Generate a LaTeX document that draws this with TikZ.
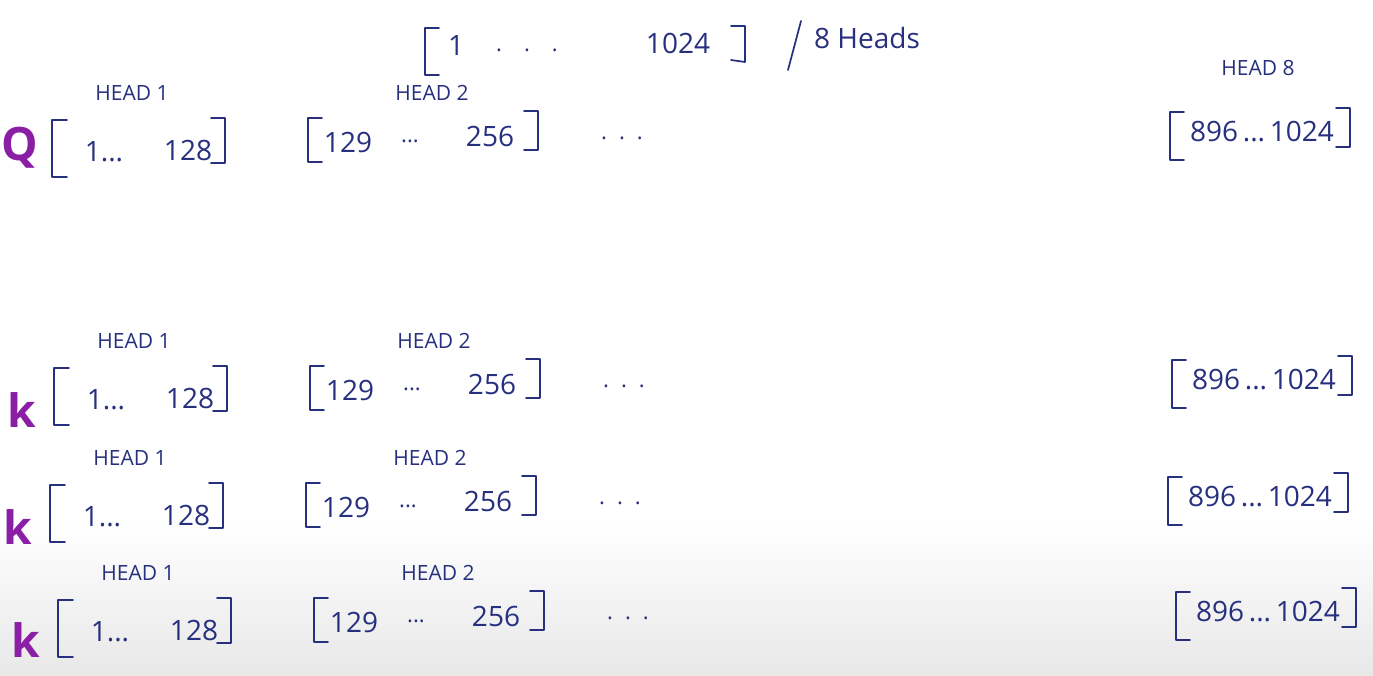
\documentclass[tikz,border=0pt]{standalone}
\usepackage{fontspec}
\setmainfont{Open Sans}
\definecolor{ink}{HTML}{27307E}
\definecolor{vio}{HTML}{8A1FA6}
\begin{document}
\begin{tikzpicture}[x=1pt,y=-1pt,
  hw/.style={font=\fontsize{28}{32}\selectfont, text=ink, inner sep=0pt},
  lbl/.style={font=\fontsize{21}{24}\selectfont, text=ink, inner sep=0pt},
  var/.style={font=\fontsize{46}{50}\selectfont\bfseries, text=vio, inner sep=0pt},
  dots/.style={font=\fontsize{22}{26}\selectfont, text=ink, inner sep=0pt},
  brk/.style={draw=ink, line width=1.7pt, line join=round, line cap=round}]
\useasboundingbox (0,0) rectangle (1373,675);
\shade[top color=white, bottom color=black!9] (0,520) rectangle (1373,675);
% title
\draw[brk] (439,28) -- (425,28) -- (425,75) -- (439,75);
\node[hw] (t1) at (456,46) {1};
\node[dots] (tdots) at (527,50) {.\hspace{22pt}.\hspace{22pt}.};
\node[hw] (t1024) at (678,43) {1024};
\draw[brk] (731,26) -- (745,26) -- (745,62) -- (731,60);
\draw[brk] (801,21) -- (788,70);
\node[hw, anchor=west] (theads) at (814,38) {8 Heads};
% rows
\foreach \r/\lab/\dx/\dy/\ly in {q/Q/0/0/148, ka/k/2/248/410, kb/k/-2/365/527, kc/k/6/480/640}{
  \begin{scope}[shift={(\dx,\dy)}]
    \node[lbl] (\r-h1) at (132,93) {HEAD 1};
    \node[lbl] (\r-h2) at (432,93) {HEAD 2};
    % head 1 block
    \draw[brk] (67,120) -- (52,120) -- (52,177) -- (67,177);
    \node[hw] (\r-a1) at (104,152) {1...};
    \node[hw] (\r-a2) at (188,150) {128};
    \draw[brk] (211,118) -- (225,118) -- (225,163) -- (211,163);
    % head 2 block
    \draw[brk] (322,118) -- (308,118) -- (308,162) -- (322,162);
    \node[hw] (\r-b1) at (348,142) {129};
    \node[dots] (\r-b2) at (410,141) {...};
    \node[hw] (\r-b3) at (490,136) {256};
    \draw[brk] (524,111) -- (538,111) -- (538,150) -- (524,150);
    % ellipsis
    \node[dots] (\r-gap) at (622,138) {.\hspace{12pt}.\hspace{12pt}.};
    % head 8 block
    \draw[brk] (1184,112) -- (1170,112) -- (1170,160) -- (1184,160);
    \node[hw] (\r-c1) at (1262,132) {896\,...\,1024};
    \draw[brk] (1336,108) -- (1350,108) -- (1350,147) -- (1336,147);
  \end{scope}
  \node[var] (\r-var) at (20+\dx,\ly) {\lab};
}
\node[lbl] (h8) at (1258,68) {HEAD 8};
\end{tikzpicture}
\end{document}
